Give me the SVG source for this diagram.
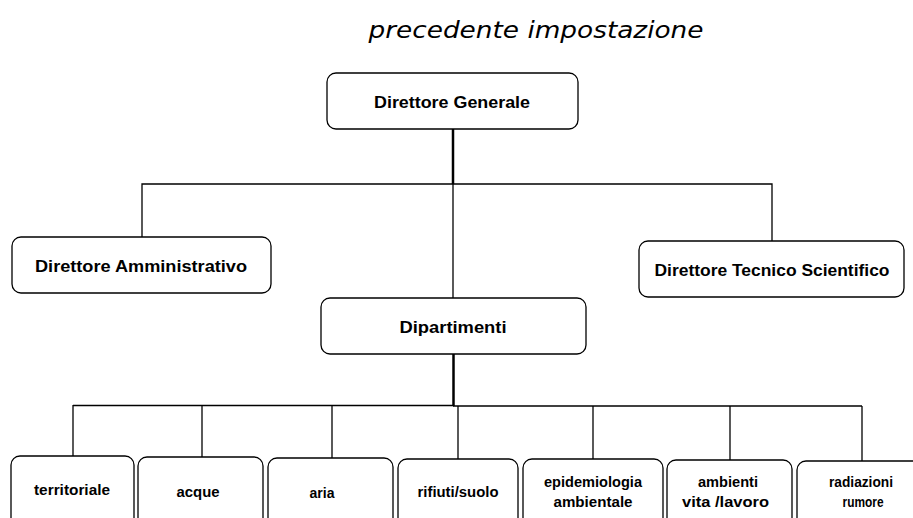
<svg xmlns="http://www.w3.org/2000/svg" width="913" height="518" viewBox="0 0 913 518">
<style>
.box{fill:#fff;stroke:#000;stroke-width:1.3}
.lbl{font-family:"Liberation Sans",Arial,sans-serif;font-weight:bold;fill:#000;text-anchor:middle}
.big{font-size:16px}
.sm{font-size:14px}
.ln{stroke:#000;fill:none;stroke-width:1.3}
.thick{stroke:#000;fill:none;stroke-width:2.5}
</style>
<rect width="913" height="518" fill="#fff"/>
<text x="536" y="38" font-family="'DejaVu Sans',Verdana,sans-serif" font-style="italic" font-size="23" text-anchor="middle" textLength="335" lengthAdjust="spacingAndGlyphs" fill="#000">precedente impostazione</text>
<g id="connectors">
<line class="thick" x1="453" y1="129" x2="453" y2="184"/>
<polyline class="ln" points="142,237 142,184 772,184 772,241"/>
<line class="ln" x1="453" y1="184" x2="453" y2="298"/>
<line class="thick" x1="453.5" y1="354" x2="453.5" y2="406"/>
<line class="ln" x1="73" y1="405.5" x2="454" y2="405.5"/>
<line class="ln" x1="453" y1="406" x2="862" y2="406" stroke-width="2"/>
<line class="ln" x1="73" y1="405" x2="73" y2="456"/>
<line class="ln" x1="202" y1="405" x2="202" y2="457"/>
<line class="ln" x1="332" y1="405" x2="332" y2="458"/>
<line class="ln" x1="458" y1="406" x2="458" y2="459"/>
<line class="ln" x1="593" y1="406" x2="593" y2="459"/>
<line class="ln" x1="730" y1="406" x2="730" y2="460"/>
<line class="ln" x1="862" y1="406" x2="862" y2="461"/>
</g>
<g id="dg"><rect class="box" x="327" y="73" width="251" height="56" rx="9"/><text class="lbl big" x="452" y="108" textLength="156" lengthAdjust="spacingAndGlyphs">Direttore Generale</text></g>
<g id="da"><rect class="box" x="12" y="237" width="259" height="56" rx="9"/><text class="lbl big" x="141" y="272" textLength="212" lengthAdjust="spacingAndGlyphs">Direttore Amministrativo</text></g>
<g id="dts"><rect class="box" x="639" y="241" width="265" height="56" rx="9"/><text class="lbl big" x="772" y="276" textLength="235" lengthAdjust="spacingAndGlyphs">Direttore Tecnico Scientifico</text></g>
<g id="dip"><rect class="box" x="321" y="298" width="265" height="56" rx="9"/><text class="lbl big" x="453" y="333" textLength="107" lengthAdjust="spacingAndGlyphs">Dipartimenti</text></g>
<g id="territoriale"><rect class="box" x="11" y="456" width="123" height="80" rx="9"/><text class="lbl sm" x="72" y="495" textLength="76" lengthAdjust="spacingAndGlyphs">territoriale</text></g>
<g id="acque"><rect class="box" x="138" y="457" width="125" height="80" rx="9"/><text class="lbl sm" x="198" y="497" textLength="43" lengthAdjust="spacingAndGlyphs">acque</text></g>
<g id="aria"><rect class="box" x="268" y="458" width="125" height="80" rx="9"/><text class="lbl sm" x="322" y="498" textLength="25" lengthAdjust="spacingAndGlyphs">aria</text></g>
<g id="rifiuti"><rect class="box" x="398" y="459" width="120" height="80" rx="9"/><text class="lbl sm" x="458" y="497" textLength="81" lengthAdjust="spacingAndGlyphs">rifiuti/suolo</text></g>
<g id="epidemiologia"><rect class="box" x="523" y="459" width="140" height="80" rx="9"/><text class="lbl sm" x="593" y="487" textLength="98" lengthAdjust="spacingAndGlyphs">epidemiologia</text><text class="lbl sm" x="593" y="507" textLength="79" lengthAdjust="spacingAndGlyphs">ambientale</text></g>
<g id="ambienti"><rect class="box" x="667" y="460" width="125" height="80" rx="9"/><text class="lbl sm" x="728" y="487" textLength="60" lengthAdjust="spacingAndGlyphs">ambienti</text><text class="lbl sm" x="725.5" y="507" textLength="87" lengthAdjust="spacingAndGlyphs">vita /lavoro</text></g>
<g id="radiazioni"><rect class="box" x="797" y="461" width="140" height="80" rx="9"/><text class="lbl sm" x="861" y="487" textLength="64" lengthAdjust="spacingAndGlyphs">radiazioni</text><text class="lbl sm" x="863" y="507" textLength="41" lengthAdjust="spacingAndGlyphs">rumore</text></g>
</svg>
